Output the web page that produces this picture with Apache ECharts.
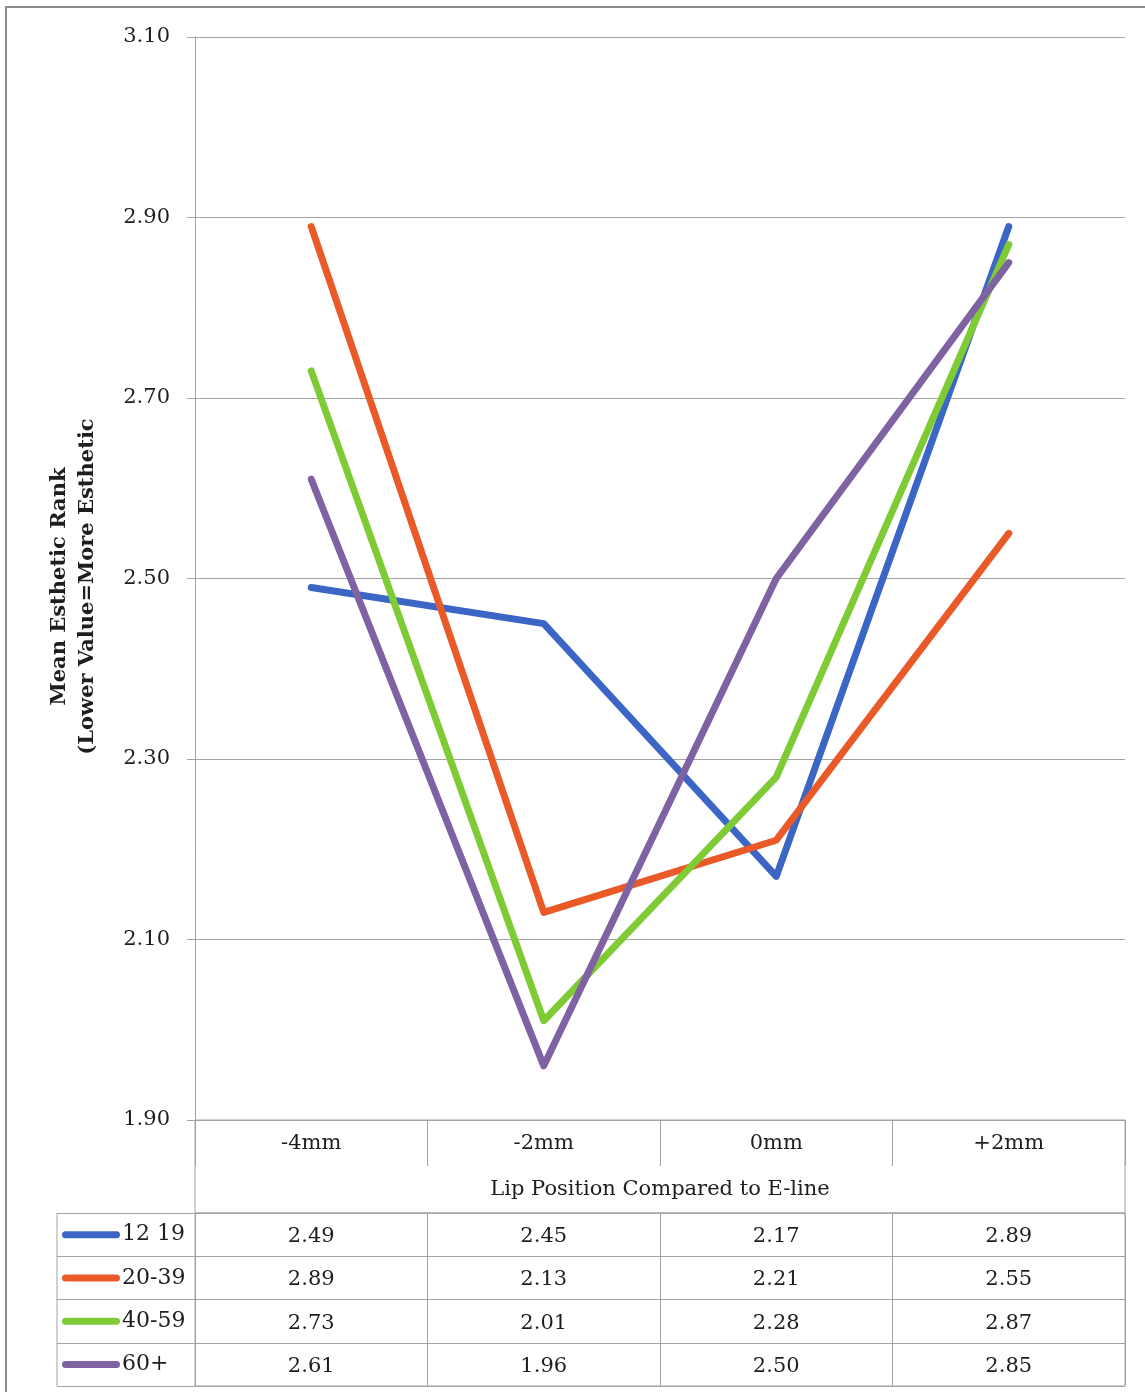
<!DOCTYPE html>
<html>
<head>
<meta charset="utf-8">
<title>Mean Esthetic Rank</title>
<script src="https://cdn.jsdelivr.net/npm/echarts@6/dist/echarts.min.js"></script>
<style>
    html, body { margin: 0; padding: 0; background: #fff; }
    #chart { width: 1145px; height: 1392px; }
</style>
</head>
<body>
<div id="chart"></div>
<script>
"use strict";
var categories = ['-4mm', '-2mm', '0mm', '+2mm'];
var seriesNames = ['12 19', '20-39', '40-59', '60+'];
var age1219 = [2.49, 2.45, 2.17, 2.89];
var age2039 = [2.89, 2.13, 2.21, 2.55];
var age4059 = [2.73, 2.01, 2.28, 2.87];
var age60 = [2.61, 1.96, 2.50, 2.85];
var yMin = 1.9, yMax = 3.1, yStep = 0.2;

var values = [age1219, age2039, age4059, age60];
var colors = ['#3b66c6', '#ea5a28', '#7fcb36', '#7e62a1'];
var font = 'DejaVu Serif';
var gridColor = '#a3a3a3';
var textColor = '#1e1e1e';

// 图表区域
var plotL = 195, plotR = 1125, plotT = 37, plotB = 1120;
var tableT = 1213, tableB = 1386, legendL = 57;
var W = 1145, H = 1392;

// 表格数据 (列, 行, 值)
var tableData = [];
values.forEach(function (row, i) {
    row.forEach(function (v, j) {
        tableData.push([j, i, v]);
    });
});

// 图例 rich 样式
var rich = {};
colors.forEach(function (c, i) {
    rich['k' + i] = { width: 58, height: 7, backgroundColor: c, borderRadius: 4 };
});
rich.t = { fontFamily: font, fontSize: 22, color: textColor, padding: [0, 0, 0, 2] };

var lineSeries = seriesNames.map(function (name, i) {
    return {
        name: name,
        type: 'line',
        xAxisIndex: 0,
        yAxisIndex: 0,
        data: values[i],
        symbol: 'none',
        lineStyle: { width: 7, color: colors[i], cap: 'round', join: 'round' },
        itemStyle: { color: colors[i] },
        z: 3 + i
    };
});

var option = {
    backgroundColor: '#fff',
    animation: false,
    textStyle: { fontFamily: font },
    grid: [
        { left: plotL, right: W - plotR, top: plotT, bottom: H - plotB },
        { left: plotL, right: W - plotR, top: tableT, bottom: H - tableB,
          show: true, borderColor: gridColor, borderWidth: 1 }
    ],
    xAxis: [
        {
            type: 'category', gridIndex: 0, data: categories, boundaryGap: true,
            axisLine: { show: true, lineStyle: { color: gridColor, width: 1 } },
            axisTick: { show: true, length: 46, interval: 0, lineStyle: { color: gridColor } },
            axisLabel: { margin: 13, fontFamily: font, fontSize: 21, color: textColor },
            name: 'Lip Position Compared to E-line',
            nameLocation: 'middle', nameGap: 59,
            nameTextStyle: { fontFamily: font, fontSize: 21, color: textColor }
        },
        {
            type: 'category', gridIndex: 1, data: categories, boundaryGap: true,
            axisLine: { show: false }, axisTick: { show: false }, axisLabel: { show: false },
            splitLine: { show: true, interval: 0, lineStyle: { color: gridColor } }
        }
    ],
    yAxis: [
        {
            type: 'value', gridIndex: 0, min: yMin, max: yMax, interval: yStep,
            axisLine: { show: true, lineStyle: { color: gridColor } },
            axisTick: { show: true, length: 8, lineStyle: { color: gridColor } },
            axisLabel: {
                margin: 25, fontFamily: font, fontSize: 21, color: textColor,
                formatter: function (v) { return v.toFixed(2); }
            },
            splitLine: { show: true, lineStyle: { color: gridColor, width: 1 } },
            name: 'Mean Esthetic Rank\n(Lower Value=More Esthetic',
            nameLocation: 'middle', nameRotate: 90, nameGap: 93,
            nameTextStyle: { fontFamily: font, fontSize: 21, fontWeight: 'bold', color: textColor, lineHeight: 28, padding: [0, 16, 0, 0] }
        },
        {
            type: 'category', gridIndex: 1, data: seriesNames, inverse: true, boundaryGap: true,
            axisLine: { show: false },
            axisTick: { show: true, length: plotL - legendL, interval: 0, lineStyle: { color: gridColor } },
            splitLine: { show: true, interval: 0, lineStyle: { color: gridColor } },
            axisLabel: {
                align: 'left', margin: plotL - 62, interval: 0,
                formatter: function (v, i) { return '{k' + i + '|}{t|' + v + '}'; },
                rich: rich
            }
        }
    ],
    graphic: [
        // 外框
        { type: 'polyline', shape: { points: [[6, H], [6, 7], [W, 7]] },
          style: { stroke: '#8c8c8c', lineWidth: 2, fill: null }, silent: true },
        // 标签行和标题行的边框
        { type: 'rect', shape: { x: plotL, y: plotB, width: plotR - plotL, height: tableT - plotB },
          style: { stroke: gridColor, lineWidth: 1, fill: null }, silent: true },
        // 图例列左边框
        { type: 'line', shape: { x1: legendL, y1: tableT, x2: legendL, y2: tableB },
          style: { stroke: gridColor, lineWidth: 1 }, silent: true }
    ],
    series: lineSeries.concat([{
        type: 'scatter',
        xAxisIndex: 1,
        yAxisIndex: 1,
        data: tableData,
        symbolSize: 1,
        itemStyle: { color: 'rgba(0,0,0,0)', opacity: 1 },
        label: {
            show: true, position: 'inside', fontFamily: font, fontSize: 21, color: textColor,
            offset: [0, 2],
            formatter: function (p) { return p.value[2].toFixed(2); }
        }
    }])
};

var chart = echarts.init(document.getElementById('chart'));
chart.setOption(option);
</script>
</body>
</html>
